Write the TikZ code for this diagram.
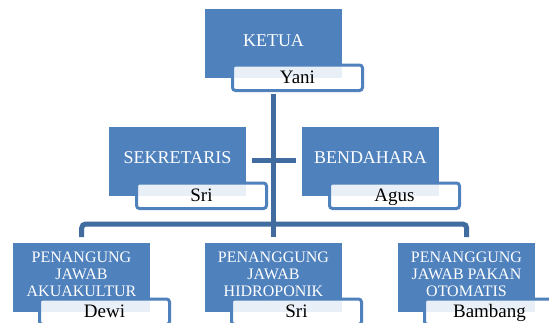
\documentclass[tikz,border=0pt]{standalone}
\usepackage{fontspec}
\setmainfont{Liberation Serif}
\definecolor{boxblue}{HTML}{4F81BD}
\definecolor{connblue}{HTML}{416CA0}
\begin{document}
\begin{tikzpicture}[x=1pt,y=-1pt,
  box/.style={rectangle, fill=boxblue, minimum width=137, minimum height=69, anchor=north west, inner sep=0pt},
  namebox/.style={rectangle, draw=boxblue, line width=3pt, rounded corners=3pt, fill=white, fill opacity=0.88, text opacity=1,
    minimum width=130, minimum height=25.5, anchor=north west, inner sep=0pt, text height=12.8pt, text depth=1pt,
    font=\fontsize{19}{20}\selectfont, text=black},
  toplabel/.style={anchor=base, text=white, inner sep=0pt, font=\fontsize{18}{20}\selectfont},
  botlabel/.style={anchor=center, text=white, inner sep=0pt, align=center, font=\fontsize{16}{17}\selectfont},
  conn/.style={draw=connblue, line width=5pt}
]
\clip (0,0) rectangle (549,322);
\fill[white] (0,0) rectangle (549,322);

% blue boxes
\node[box] (ketua) at (205,9) {};
\node[box] (sek) at (109,127) {};
\node[box] (ben) at (302,127) {};
\node[box] (pj1) at (13,243) {};
\node[box] (pj2) at (205,243) {};
\node[box] (pj3) at (398,243) {};

% role labels
\node[toplabel] (tketua) at (273.5,46) {KETUA};
\node[toplabel] (tsek) at (177.5,163) {SEKRETARIS};
\node[toplabel] (tben) at (370.5,163) {BENDAHARA};
\node[botlabel] (tpj1) at (81.5,274) {PENANGUNG\\JAWAB\\AKUAKULTUR};
\node[botlabel] (tpj2) at (273.5,274) {PENANGGUNG\\JAWAB\\HIDROPONIK};
\node[botlabel] (tpj3) at (466.5,274) {PENANGGUNG\\JAWAB PAKAN\\OTOMATIS};

% name boxes
\node[namebox] (nketua) at (231,63.5) {Yani};
\node[namebox] (nsek) at (135,181.5) {Sri};
\node[namebox] (nben) at (328,181.5) {Agus};
\node[namebox] (npj1) at (38,297.5) {Dewi};
\node[namebox] (npj2) at (230,297.5) {Sri};
\node[namebox] (npj3) at (423,297.5) {Bambang};

% connectors
\draw[conn, shorten <=1.5pt] (nketua.south -| ketua.south) -- ([yshift=6pt]pj2.north);
\draw[conn, rounded corners=4pt] ([yshift=6pt]pj1.north) -- ([yshift=19pt]pj1.north) -- ([yshift=19pt]pj3.north) -- ([yshift=6pt]pj3.north);
\draw[conn] ([xshift=6pt,yshift=1pt]sek.east) -- ([xshift=-6pt,yshift=1pt]ben.west);
\end{tikzpicture}
\end{document}
